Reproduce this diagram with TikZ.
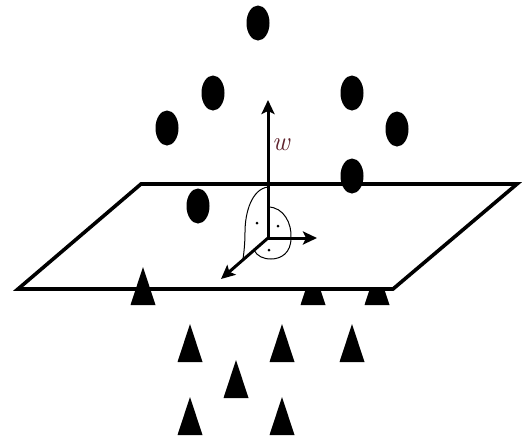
\documentclass[tikz,border=0pt]{standalone}
\usepackage{fontspec}
\usetikzlibrary{shapes.geometric,arrows.meta}
\definecolor{wcol}{RGB}{95,35,45}
\tikzset{
  dot/.style={ellipse,fill=black,minimum width=23pt,minimum height=35pt,inner sep=0pt},
  axis/.style={line width=3pt,-{Stealth[length=14pt,width=13pt,inset=3pt]}},
  planeline/.style={line width=3.6pt,line join=miter},
  thinarc/.style={line width=1pt},
  smalldot/.style={circle,fill=black,inner sep=0pt,minimum size=3pt},
  tri/.pic={\fill (-12.5,0) -- (0,-38) -- (12.5,0) -- cycle;}
}
\begin{document}
\begin{tikzpicture}[x=1pt,y=-1pt]
\useasboundingbox (0,0) rectangle (532,440);
% triangles behind the plane
\pic at (313,305) {tri};
\pic at (377,305) {tri};
% plane
\draw[planeline,fill=white] (141,184) -- (517,184) -- (393,289) -- (18,289) -- cycle;
% dots
\node[dot] (d1) at (258,23) {};
\node[dot] (d2) at (213,93) {};
\node[dot] (d3) at (167,128) {};
\node[dot] (d4) at (352,93) {};
\node[dot] (d5) at (397,129) {};
\node[dot] (d6) at (352,176) {};
\node[dot] (d7) at (198,206) {};
% axes
\coordinate (o) at (268,238);
\coordinate (wtip) at (268,100);
\coordinate (xtip) at (317,238);
\coordinate (ytip) at (221,279);
\draw[axis] (o) -- (wtip);
\draw[axis] (o) -- (xtip);
\draw[axis] (o) -- (ytip);
\node[text=wcol,font=\fontsize{27}{29}\selectfont\itshape,inner sep=0pt] (w) at (281,145) {w};
% arcs
\draw[thinarc] (268,187) .. controls (252,189) and (245,212) .. (245,232) .. controls (245,243) and (244,252) .. (243,259);
\draw[thinarc] (268,207) .. controls (284,207) and (292,224) .. (291,238);
\draw[thinarc] (291,238) .. controls (291,253) and (281,259) .. (271,259) .. controls (263,259) and (257,256) .. (254,250);
\node[smalldot] (s1) at (257,223) {};
\node[smalldot] (s2) at (278,226) {};
\node[smalldot] (s3) at (269,250) {};
% triangles in front / below
\pic at (143,305) {tri};
\pic at (190,362) {tri};
\pic at (282,362) {tri};
\pic at (352,362) {tri};
\pic at (236,398) {tri};
\pic at (190,435) {tri};
\pic at (282,435) {tri};
\end{tikzpicture}
\end{document}
